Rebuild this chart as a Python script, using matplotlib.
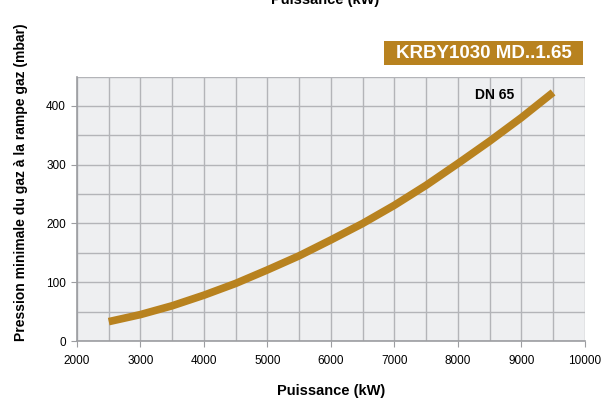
import matplotlib
matplotlib.use("Agg")
import matplotlib.pyplot as plt
from matplotlib.ticker import MultipleLocator
from matplotlib.patches import Rectangle

power_kw = [2500, 3000, 3500, 4000, 4500, 5000, 5500, 6000, 6500, 7000, 7500, 8000, 8500, 9000, 9500]
pressure_mbar = [33, 45, 60, 78, 98, 121, 145, 172, 200, 231, 265, 302, 340, 380, 423]
x_ticks = [2000, 3000, 4000, 5000, 6000, 7000, 8000, 9000, 10000]
y_ticks = [0, 100, 200, 300, 400]
title = "KRBY1030 MD..1.65"
series_label = "DN 65"

plt.rcParams['font.family'] = ['Liberation Sans', 'DejaVu Sans']
gold = "#b8821f"
W, H = 613, 403

fig = plt.figure(figsize=(6.13, 4.03), dpi=100)
ax = fig.add_axes([0.1256, 0.1538, 0.954 - 0.1256, 0.810 - 0.1538])
ax.set_facecolor("#eeeff1")
ax.set_xlim(2000, 10000)
ax.set_ylim(0, 450)
ax.set_xticks(x_ticks)
ax.set_yticks(y_ticks)
ax.xaxis.set_minor_locator(MultipleLocator(500))
ax.yaxis.set_minor_locator(MultipleLocator(50))
ax.grid(which='both', color="#b3b4b8", linewidth=1.0)
ax.set_axisbelow(True)
for s in ['top', 'right']:
    ax.spines[s].set_visible(False)
for s in ['left', 'bottom']:
    ax.spines[s].set_color("#9c9da1")
    ax.spines[s].set_linewidth(1.2)
ax.tick_params(which='major', length=4, color="#9c9da1", labelsize=8.5, pad=4)
ax.tick_params(axis='x', which='major', pad=6)
ax.tick_params(which='minor', length=0)

ax.plot(power_kw, pressure_mbar, color=gold, linewidth=5.5, solid_capstyle='butt')
ax.text(8580, 418, series_label, fontsize=10, fontweight='bold', ha='center', va='center')

ax.set_xlabel("Puissance (kW)", fontsize=10.5, fontweight='bold', labelpad=12)
fig.text(21 / W, 1 - 182 / H, "Pression minimale du gaz à la rampe gaz (mbar)", fontsize=10,
         fontweight='bold', rotation=90, ha='center', va='center')

fig.patches.append(Rectangle((384 / W, 1 - 65 / H), (583 - 384) / W, 24 / H,
                             transform=fig.transFigure, facecolor=gold, edgecolor='none'))
fig.text((384 + 583) / 2 / W, 1 - 53.5 / H, title, fontsize=13.5, fontweight='bold', color='white',
         ha='center', va='center')
fig.text(325 / W, 1.0, "Puissance (kW)", fontsize=10.5, fontweight='bold', ha='center', va='center')

fig.savefig("out.png", dpi=100)
